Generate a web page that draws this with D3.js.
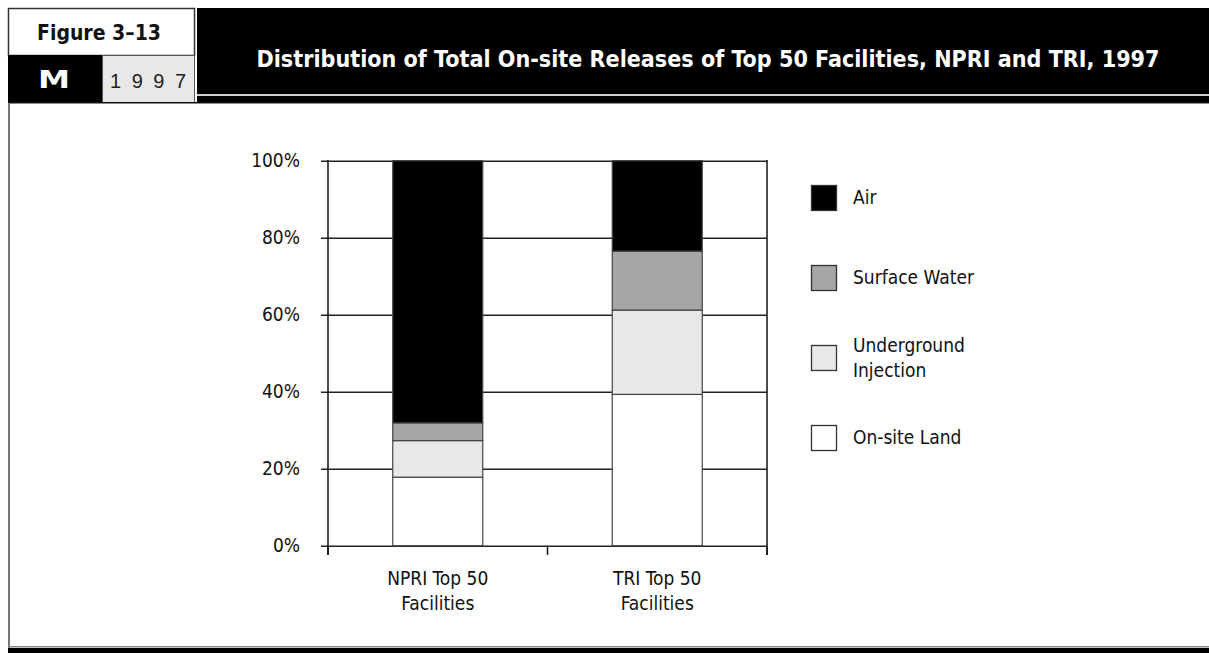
<!DOCTYPE html>
<html><head><meta charset="utf-8">
<script src="https://cdn.jsdelivr.net/npm/d3@7"></script>
<style>
html,body{margin:0;padding:0;background:#fff;}
svg{display:block;}
</style></head>
<body>
<svg id="c" width="1209" height="653"></svg>
<script>
const categories = ["NPRI Top 50\nFacilities", "TRI Top 50\nFacilities"];
const seriesNames = ["On-site Land", "Underground Injection", "Surface Water", "Air"];
const onsiteLand = [17.8, 39.3];
const undergroundInjection = [9.5, 21.9];
const surfaceWater = [4.6, 15.3];
const air = [68.1, 23.5];
const yTicks = [0, 20, 40, 60, 80, 100];
const legendOrder = ["Air", "Surface Water", "Underground\nInjection", "On-site Land"];
const colors = {"On-site Land":"#ffffff","Underground Injection":"#e8e8e8","Surface Water":"#a6a6a6","Air":"#000000"};
const legendKeys = ["Air","Surface Water","Underground Injection","On-site Land"];

const FONT = "'Liberation Sans Narrow','DejaVu Sans Condensed','Liberation Sans',sans-serif";
const svg = d3.select("#c");

// ---- header frame ----
svg.append("rect").attr("x",8.5).attr("y",8.5).attr("width",186).attr("height",47)
  .attr("fill","#fff").attr("stroke","#333").attr("stroke-width",1.5);
svg.append("text").attr("x",99).attr("y",40).attr("text-anchor","middle")
  .attr("font-family",FONT).attr("font-weight","bold").attr("font-size",21).attr("fill","#111")
  .text("Figure 3–13");
svg.append("rect").attr("x",8).attr("y",55).attr("width",94).attr("height",48).attr("fill","#000");
svg.append("text").attr("x",38).attr("y",88).attr("font-family","'DejaVu Sans',sans-serif")
  .attr("font-weight","bold").attr("font-size",24).attr("fill","#fff")
  .attr("textLength",32).attr("lengthAdjust","spacingAndGlyphs").text("M");
svg.append("rect").attr("x",102.5).attr("y",55.5).attr("width",92).attr("height",47)
  .attr("fill","#e8e8e8").attr("stroke","#555").attr("stroke-width",1);
svg.append("text").attr("x",110).attr("y",88).attr("font-family","'Liberation Sans',sans-serif")
  .attr("font-size",20).attr("fill","#222").attr("textLength",76).attr("lengthAdjust","spacing")
  .text("1997");
svg.append("rect").attr("x",197).attr("y",8).attr("width",1012).attr("height",86).attr("fill","#000");
svg.append("rect").attr("x",197).attr("y",94).attr("width",1012).attr("height",2).attr("fill","#cfcfcf");
svg.append("rect").attr("x",197).attr("y",96).attr("width",1012).attr("height",7).attr("fill","#000");
svg.append("rect").attr("x",8).attr("y",102).attr("width",1201).attr("height",1.5).attr("fill","#111");
svg.append("text").attr("x",708).attr("y",67).attr("text-anchor","middle")
  .attr("font-family",FONT).attr("font-weight","bold").attr("font-size",23).attr("fill","#fff")
  .attr("textLength",903).attr("lengthAdjust","spacingAndGlyphs")
  .text("Distribution of Total On-site Releases of Top 50 Facilities, NPRI and TRI, 1997");
// left + bottom frame
svg.append("rect").attr("x",8).attr("y",103).attr("width",2).attr("height",545).attr("fill","#777");
svg.append("rect").attr("x",8).attr("y",646).attr("width",1201).attr("height",1.5).attr("fill","#888");
svg.append("rect").attr("x",8).attr("y",648).attr("width",1201).attr("height",5).attr("fill","#000");

// ---- scales ----
const x = d3.scaleBand().domain(categories).range([328,767]).paddingInner(0.59).paddingOuter(0.295);
const y = d3.scaleLinear().domain([0,100]).range([545.7,160.7]);

// gridlines + y axis ticks
const yAxis = d3.axisLeft(y).tickValues(yTicks).tickSize(-(767-321)).tickSizeOuter(0).tickPadding(21)
  .tickFormat(d => d + "%");
const gy = svg.append("g").attr("transform","translate(767,0)").call(yAxis);
gy.select(".domain").remove();
gy.selectAll(".tick line").attr("x1",0).attr("x2",-(767-321)).attr("stroke","#222").attr("stroke-width",1.5);
gy.selectAll(".tick text").attr("x",-(767-300)).attr("font-family",FONT).attr("font-size",19).attr("fill","#111");

// vertical axis lines
svg.append("line").attr("x1",328).attr("x2",328).attr("y1",160).attr("y2",555).attr("stroke","#111").attr("stroke-width",1.5);
svg.append("line").attr("x1",767).attr("x2",767).attr("y1",160).attr("y2",555).attr("stroke","#111").attr("stroke-width",1.5);

// category boundary ticks
const step = x.step();
const bounds = [0,1,2].map(i => 328 + i*step);
svg.selectAll(".ctick").data(bounds).enter().append("line")
  .attr("x1",d=>d).attr("x2",d=>d).attr("y1",545.7).attr("y2",555)
  .attr("stroke","#111").attr("stroke-width",1.5);

// ---- stacked bars ----
const table = categories.map((c,i)=>({cat:c,"On-site Land":onsiteLand[i],"Underground Injection":undergroundInjection[i],"Surface Water":surfaceWater[i],"Air":air[i]}));
const stack = d3.stack().keys(seriesNames)(table);
const layers = svg.append("g").selectAll("g").data(stack).enter().append("g")
  .attr("fill", d => colors[d.key]);
layers.selectAll("rect").data(d=>d).enter().append("rect")
  .attr("x", d => x(d.data.cat))
  .attr("width", x.bandwidth())
  .attr("y", d => y(Math.min(100,d[1])))
  .attr("height", d => y(d[0]) - y(Math.min(100,d[1])))
  .attr("stroke","#444").attr("stroke-width",1.2);

// x labels
categories.forEach(c => {
  const t = svg.append("text").attr("x", x(c)+x.bandwidth()/2).attr("y",585)
    .attr("text-anchor","middle").attr("font-family",FONT).attr("font-size",19).attr("fill","#111");
  c.split("\n").forEach((ln,j)=>{
    t.append("tspan").attr("x", x(c)+x.bandwidth()/2).attr("dy", j===0?0:25).text(ln);
  });
});

// ---- legend ----
const lg = svg.append("g");
legendOrder.forEach((lab,i)=>{
  const cy = 198 + i*80;
  lg.append("rect").attr("x",811.5).attr("y",cy-12.5).attr("width",25).attr("height",25)
    .attr("fill",colors[legendKeys[i]]).attr("stroke","#333").attr("stroke-width",1.3);
  const lines = lab.split("\n");
  const t = lg.append("text").attr("font-family",FONT).attr("font-size",19).attr("fill","#111");
  lines.forEach((ln,j)=>{
    t.append("tspan").attr("x",853).attr("y", cy + 6 + (j - (lines.length-1)/2)*25).text(ln);
  });
});
</script>
</body></html>
